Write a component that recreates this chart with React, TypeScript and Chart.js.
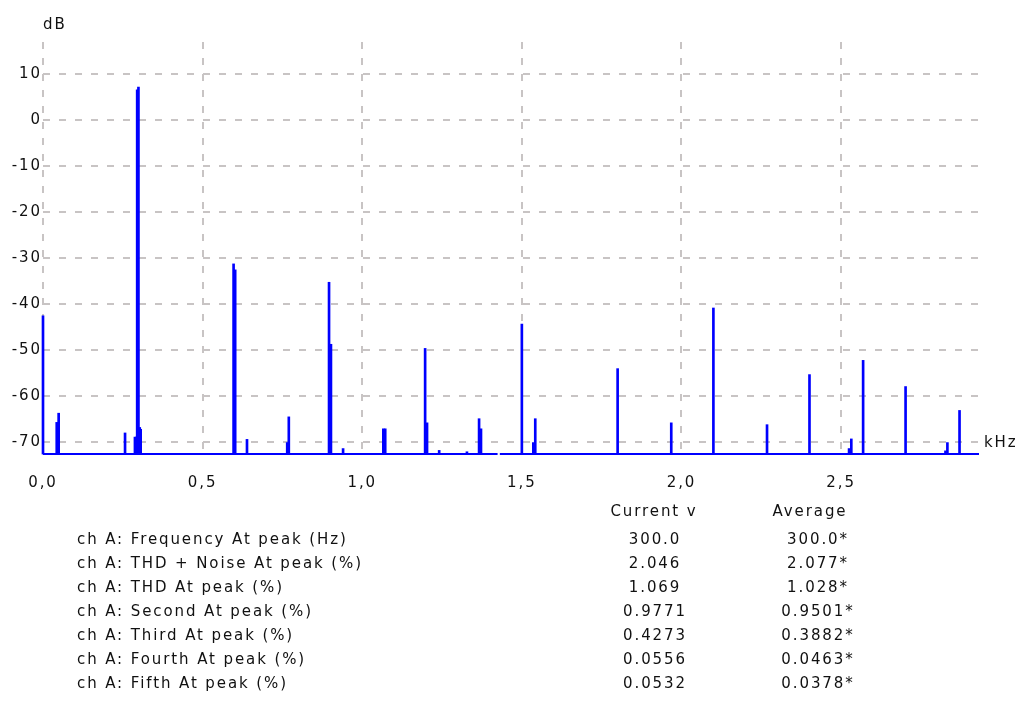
import React, { useEffect, useRef } from "react";
import { Chart, registerables } from "chart.js";

Chart.register(...registerables);

// Spectrum bins that rise above the noise floor (frequency in kHz, level in dB)
const PEAK_KHZ = [
  0.0, 0.043, 0.049, 0.257, 0.288, 0.292, 0.295, 0.299, 0.303, 0.306,
  0.597, 0.602, 0.639, 0.765, 0.77, 0.896, 0.902, 0.94, 1.066, 1.072,
  1.197, 1.203, 1.241, 1.328, 1.366, 1.372, 1.5, 1.536, 1.542, 1.8,
  1.968, 2.1, 2.268, 2.401, 2.525, 2.532, 2.569, 2.702, 2.827, 2.833, 2.871,
];
const PEAK_DB = [
  -42.6, -65.8, -63.8, -68.1, -69.0, -69.0, 6.6, 7.2, -66.9, -67.3,
  -31.3, -32.6, -69.5, -70.2, -64.6, -35.3, -48.8, -71.5, -67.2, -67.2,
  -49.7, -65.9, -71.9, -72.2, -65.0, -67.2, -44.4, -70.2, -65.0, -54.1,
  -65.9, -40.9, -66.3, -55.4, -71.5, -69.4, -52.3, -58.0, -72.0, -70.2, -63.2,
];
const NOISE_FLOOR_DB = -72.7;
// The floor trace has a short dropout here
const BASELINE_BREAK_KHZ = [1.424, 1.431];

const X_MIN_KHZ = 0;
const X_MAX_KHZ = 2.932;
const Y_MIN_DB = -72.9;
const Y_MAX_DB = 17.0;
const X_TICKS = [0, 0.5, 1.0, 1.5, 2.0, 2.5];
const X_TICK_LABELS = ["0,0", "0,5", "1,0", "1,5", "2,0", "2,5"];
const Y_TICKS = [10, 0, -10, -20, -30, -40, -50, -60, -70];

const MEASUREMENT_LABELS = [
  "ch A: Frequency At peak (Hz)",
  "ch A: THD + Noise At peak (%)",
  "ch A: THD At peak (%)",
  "ch A: Second At peak (%)",
  "ch A: Third At peak (%)",
  "ch A: Fourth At peak (%)",
  "ch A: Fifth At peak (%)",
];
const CURRENT_VALUES = ["300.0", "2.046", "1.069", "0.9771", "0.4273", "0.0556", "0.0532"];
const AVERAGE_VALUES = ["300.0*", "2.077*", "1.028*", "0.9501*", "0.3882*", "0.0463*", "0.0378*"];

const FONT_FAMILY = "'DejaVu Sans', sans-serif";
const FONT_SIZE = 15;
const TEXT_COLOR = "#111";
const LETTER_SPACING = "1.9px";
const GRID_COLOR = "rgb(200,196,196)";
const TRACE_COLOR = "#0000ff";

const sticks = PEAK_KHZ.map((f, i) => ({ x: f, y: [NOISE_FLOOR_DB, PEAK_DB[i]] }));

const floorLine = [
  { x: X_MIN_KHZ, y: NOISE_FLOOR_DB },
  { x: BASELINE_BREAK_KHZ[0], y: NOISE_FLOOR_DB },
  { x: (BASELINE_BREAK_KHZ[0] + BASELINE_BREAK_KHZ[1]) / 2, y: null },
  { x: BASELINE_BREAK_KHZ[1], y: NOISE_FLOOR_DB },
  { x: X_MAX_KHZ, y: NOISE_FLOOR_DB },
];

const spacingPlugin = {
  id: "letterSpacing",
  beforeDraw(chart: any) {
    (chart.ctx as any).letterSpacing = LETTER_SPACING;
  },
};

function SpectrumChart() {
  const ref = useRef<HTMLCanvasElement | null>(null);
  useEffect(() => {
    if (!ref.current) return;
    const tickFont = { family: FONT_FAMILY, size: FONT_SIZE };
    const chart = new Chart(ref.current, {
      type: "bar",
      data: {
        datasets: [
          {
            type: "bar",
            data: sticks as any,
            backgroundColor: TRACE_COLOR,
            borderWidth: 0,
            barThickness: 2,
            grouped: false,
            clip: false as any,
          },
          {
            type: "line",
            data: floorLine as any,
            borderColor: TRACE_COLOR,
            borderWidth: 2,
            pointRadius: 0,
            tension: 0,
            fill: false,
            spanGaps: false,
            clip: false as any,
          },
        ],
      },
      options: {
        responsive: false,
        animation: false,
        layout: { padding: { top: 42, right: 41, bottom: 212, left: 0 } },
        plugins: { legend: { display: false }, tooltip: { enabled: false } },
        scales: {
          x: {
            type: "linear",
            min: X_MIN_KHZ,
            max: X_MAX_KHZ,
            offset: false,
            afterBuildTicks: (s: any) => {
              s.ticks = X_TICKS.map((v) => ({ value: v }));
            },
            afterFit: (s: any) => {
              s.height = 40;
            },
            ticks: {
              callback: (_v: any, i: number) => X_TICK_LABELS[i],
              font: tickFont,
              color: TEXT_COLOR,
              padding: 19,
              maxRotation: 0,
              autoSkip: false,
            },
            grid: { color: GRID_COLOR, lineWidth: 2, drawTicks: false, offset: false },
            border: { display: false, dash: [7, 9] },
          },
          y: {
            type: "linear",
            min: Y_MIN_DB,
            max: Y_MAX_DB,
            afterBuildTicks: (s: any) => {
              s.ticks = Y_TICKS.map((v) => ({ value: v }));
            },
            afterFit: (s: any) => {
              s.width = 43;
            },
            ticks: {
              callback: (v: any) => String(v),
              font: tickFont,
              color: TEXT_COLOR,
              padding: 1,
              autoSkip: false,
            },
            grid: { color: GRID_COLOR, lineWidth: 2, drawTicks: false },
            border: { display: false, dash: [7, 9] },
          },
        },
      },
      plugins: [spacingPlugin],
    });
    return () => chart.destroy();
  }, []);
  return <canvas ref={ref} width={1020} height={707} style={{ position: "absolute", left: 0, top: 0 }} />;
}

const ROW_TOP = 539;
const ROW_STEP = 24;
const LINE_H = 18;

export default function App() {
  const text: React.CSSProperties = {
    position: "absolute",
    fontFamily: FONT_FAMILY,
    fontSize: FONT_SIZE,
    lineHeight: `${LINE_H}px`,
    letterSpacing: LETTER_SPACING,
    color: TEXT_COLOR,
    whiteSpace: "nowrap",
  };
  const centered = (cx: number, cy: number): React.CSSProperties => ({
    ...text,
    left: cx,
    top: cy - LINE_H / 2,
    transform: "translateX(-50%)",
  });
  return (
    <div style={{ position: "absolute", left: 0, top: 0, width: 1020, height: 707, background: "#fff", overflow: "hidden" }}>
      <SpectrumChart />
      <div style={{ ...text, left: 43, top: 24 - LINE_H / 2 }}>dB</div>
      <div style={{ ...text, left: 984, top: 442 - LINE_H / 2 }}>kHz</div>
      <div style={centered(654, 511)}>Current v</div>
      <div style={centered(810, 511)}>Average</div>
      {MEASUREMENT_LABELS.map((label, i) => (
        <div key={label} style={{ ...text, left: 77, top: ROW_TOP + i * ROW_STEP - LINE_H / 2 }}>
          {label}
        </div>
      ))}
      {CURRENT_VALUES.map((v, i) => (
        <div key={"c" + i} style={centered(655, ROW_TOP + i * ROW_STEP)}>
          {v}
        </div>
      ))}
      {AVERAGE_VALUES.map((v, i) => (
        <div key={"a" + i} style={centered(818, ROW_TOP + i * ROW_STEP)}>
          {v}
        </div>
      ))}
    </div>
  );
}
